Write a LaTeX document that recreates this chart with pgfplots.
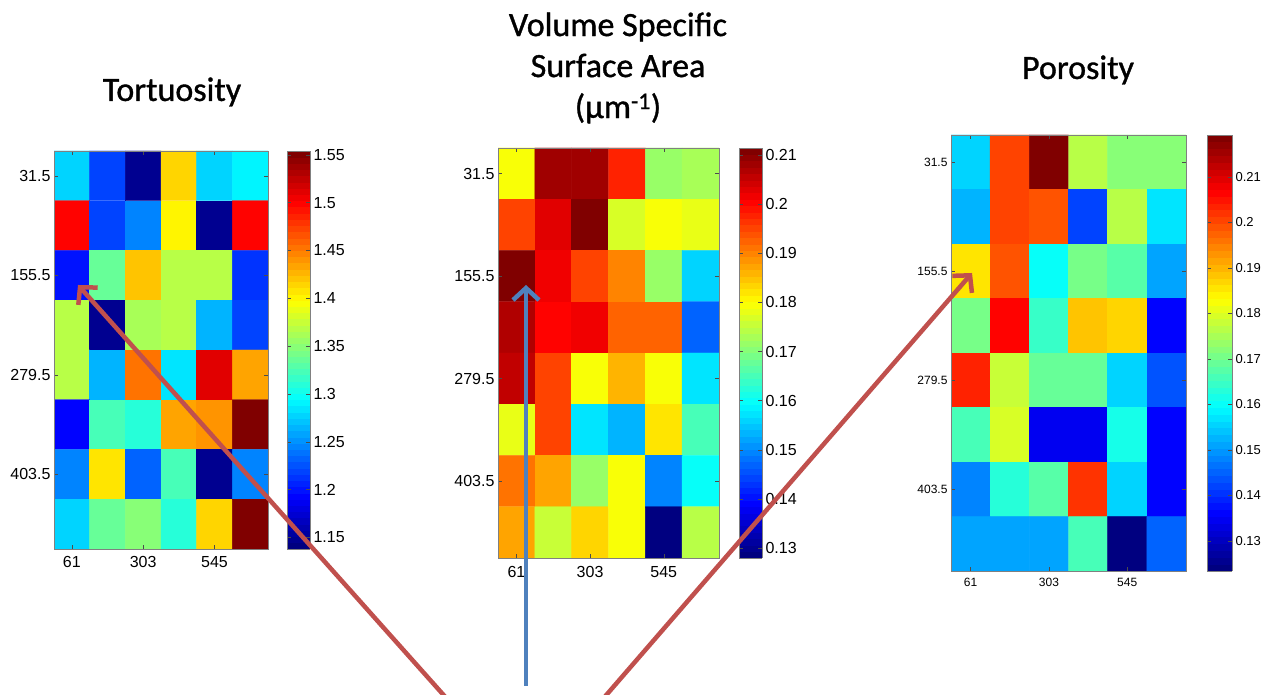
\documentclass[border=0pt]{standalone}
\usepackage{fontspec}
\setmainfont{Liberation Sans}
\newfontfamily\titlefont[BoldFont=Carlito, BoldFeatures={FakeBold=1}]{Carlito}
\usepackage{pgfplots}
\usepackage{pgfplotstable}
\pgfplotsset{compat=1.18}
\usetikzlibrary{arrows.meta}

\definecolor{arrred}{RGB}{192,80,77}
\definecolor{arrblue}{RGB}{79,129,189}

% cell centres: x = 61,182,...,666 ; y = 31.5,93.5,...,465.5
\pgfplotstableread{
x y c
61 31.5 1.279
182 31.5 1.217
303 31.5 1.146
424 31.5 1.413
545 31.5 1.275
666 31.5 1.292
61 93.5 1.496
182 93.5 1.217
303 93.5 1.246
424 93.5 1.404
545 93.5 1.150
666 93.5 1.496
61 155.5 1.200
182 155.5 1.334
303 155.5 1.419
424 155.5 1.371
545 155.5 1.367
666 155.5 1.211
61 217.5 1.371
182 217.5 1.150
303 217.5 1.363
424 217.5 1.371
545 217.5 1.267
666 217.5 1.221
61 279.5 1.371
182 279.5 1.267
303 279.5 1.450
424 279.5 1.284
545 279.5 1.512
666 279.5 1.433
61 341.5 1.196
182 341.5 1.325
303 341.5 1.309
424 341.5 1.433
545 341.5 1.440
666 341.5 1.554
61 403.5 1.242
182 403.5 1.408
303 403.5 1.232
424 403.5 1.321
545 403.5 1.150
666 403.5 1.242
61 465.5 1.275
182 465.5 1.334
303 465.5 1.350
424 465.5 1.309
545 465.5 1.413
666 465.5 1.554
}\tort

\pgfplotstableread{
x y c
61 31.5 0.1801
182 31.5 0.2081
303 31.5 0.2081
424 31.5 0.1981
545 31.5 0.1722
666 31.5 0.1730
61 93.5 0.1947
182 93.5 0.2031
303 93.5 0.2114
424 93.5 0.1772
545 93.5 0.1801
666 93.5 0.1780
61 155.5 0.2106
182 155.5 0.2010
303 155.5 0.1947
424 155.5 0.1897
545 155.5 0.1722
666 155.5 0.1564
61 217.5 0.2064
182 217.5 0.2001
303 217.5 0.2022
424 217.5 0.1922
545 217.5 0.1922
666 217.5 0.1468
61 279.5 0.2056
182 279.5 0.1947
303 279.5 0.1789
424 279.5 0.1864
545 279.5 0.1789
666 279.5 0.1572
61 341.5 0.1780
182 341.5 0.1947
303 341.5 0.1572
424 341.5 0.1539
545 341.5 0.1822
666 341.5 0.1647
61 403.5 0.1906
182 403.5 0.1872
303 403.5 0.1722
424 403.5 0.1789
545 403.5 0.1489
666 403.5 0.1593
61 465.5 0.1872
182 465.5 0.1760
303 465.5 0.1830
424 465.5 0.1789
545 465.5 0.1288
666 465.5 0.1747
}\vssa

\pgfplotstableread{
x y c
61 31.5 0.1560
182 31.5 0.2010
303 31.5 0.2192
424 31.5 0.1761
545 31.5 0.1713
666 31.5 0.1713
61 93.5 0.1531
182 93.5 0.2000
303 93.5 0.1991
424 93.5 0.1426
545 93.5 0.1761
666 93.5 0.1574
61 155.5 0.1857
182 155.5 0.1991
303 155.5 0.1608
424 155.5 0.1703
545 155.5 0.1675
666 155.5 0.1512
61 217.5 0.1703
182 217.5 0.2063
303 217.5 0.1641
424 217.5 0.1881
545 217.5 0.1866
666 217.5 0.1368
61 279.5 0.2039
182 279.5 0.1785
303 279.5 0.1689
424 279.5 0.1689
545 279.5 0.1550
666 279.5 0.1435
61 341.5 0.1656
182 341.5 0.1799
303 341.5 0.1339
424 341.5 0.1339
545 341.5 0.1617
666 341.5 0.1359
61 403.5 0.1483
182 403.5 0.1627
303 403.5 0.1675
424 403.5 0.2020
545 403.5 0.1560
666 403.5 0.1359
61 465.5 0.1512
182 465.5 0.1512
303 465.5 0.1512
424 465.5 0.1665
545 465.5 0.1244
666 465.5 0.1450
}\poro

\pgfplotsset{
  colormap/jet,
  colormap={jet64}{samples of colormap=(64 of jet)},
  heat/.style={
    scale only axis, anchor=north west,
    y dir=reverse, enlargelimits=false,
    xmin=0.5, xmax=726.5, ymin=0.5, ymax=496.5,
    xtick={61,303,545}, ytick={31.5,155.5,279.5,403.5},
    tick align=inside, tick pos=both, major tick length=4pt,
    axis line style={draw=gray},
    every tick/.style={black!70},
    colormap name=jet64, colormap access=piecewise constant,
    colorbar,
    colorbar shift/.style={xshift=0pt},
    /pgf/number format/assume math mode=true,
    axis on top,
  },
  cbar/.style={
    at={(parent axis.north east)}, anchor=north west,
    scale only axis,
    tick align=inside, ytick pos=both, yticklabel pos=right,
    major tick length=4pt,
    axis line style={draw=gray},
    every tick/.style={black!70},
    /pgf/number format/assume math mode=true,
  },
}

\begin{document}
\begin{tikzpicture}
\path[use as bounding box] (0,0) rectangle (1261pt,695pt);

% --- Tortuosity ---
\begin{axis}[heat, at={(54pt,544pt)}, width=214pt, height=398pt,
  font=\fontsize{16}{19}\selectfont,
  xticklabel style={yshift=-4pt},
  point meta min=1.138, point meta max=1.554,
  colorbar/width=23pt,
  colorbar style={cbar, xshift=19pt, width=23pt, height=398pt,
    font=\fontsize{16}{19}\selectfont,
    ytick={1.15,1.2,1.25,1.3,1.35,1.4,1.45,1.5,1.55}}]
  \addplot[matrix plot*, mesh/cols=6, point meta=explicit] table[meta=c] {\tort};
\end{axis}

% --- Volume specific surface area ---
\begin{axis}[heat, at={(498pt,547pt)}, width=221pt, height=410pt,
  font=\fontsize{16}{19}\selectfont,
  xticklabel style={yshift=-5pt},
  point meta min=0.128, point meta max=0.2114,
  colorbar/width=23pt,
  colorbar style={cbar, xshift=20pt, width=23pt, height=410pt,
    font=\fontsize{16}{19}\selectfont,
    ytick={0.13,0.14,0.15,0.16,0.17,0.18,0.19,0.2,0.21}}]
  \addplot[matrix plot*, mesh/cols=6, point meta=explicit] table[meta=c] {\vssa};
\end{axis}

% --- Porosity ---
\begin{axis}[heat, at={(951pt,560pt)}, width=235pt, height=436pt,
  font=\fontsize{12}{14}\selectfont,
  xticklabel style={yshift=-4pt},
  point meta min=0.1234, point meta max=0.2192,
  colorbar/width=25pt,
  colorbar style={cbar, xshift=21pt, width=25pt, height=436pt,
    font=\fontsize{13}{15}\selectfont,
    ytick={0.13,0.14,0.15,0.16,0.17,0.18,0.19,0.2,0.21}}]
  \addplot[matrix plot*, mesh/cols=6, point meta=explicit] table[meta=c] {\poro};
\end{axis}

% titles
\node[font=\titlefont\bfseries\fontsize{34}{41}\selectfont] at (172pt,603pt) {Tortuosity};
\node[font=\titlefont\bfseries\fontsize{34}{41}\selectfont, align=center] at (618pt,627pt)
  {Volume Specific\\Surface Area\\(µm\textsuperscript{-1})};
\node[font=\titlefont\bfseries\fontsize{34}{41}\selectfont] at (1078pt,625pt) {Porosity};

% arrows
\draw[arrred, line width=4.5pt, -{Straight Barb[length=12pt,width=26pt]}]
  (448pt,-5pt) -- (78pt,410pt);
\draw[arrblue, line width=4.5pt, -{Straight Barb[length=12pt,width=26pt]}]
  (526pt,9pt) -- (526pt,410pt);
\draw[arrred, line width=4.5pt, -{Straight Barb[length=12pt,width=26pt]}]
  (602pt,-5pt) -- (972pt,422pt);
\end{tikzpicture}
\end{document}
